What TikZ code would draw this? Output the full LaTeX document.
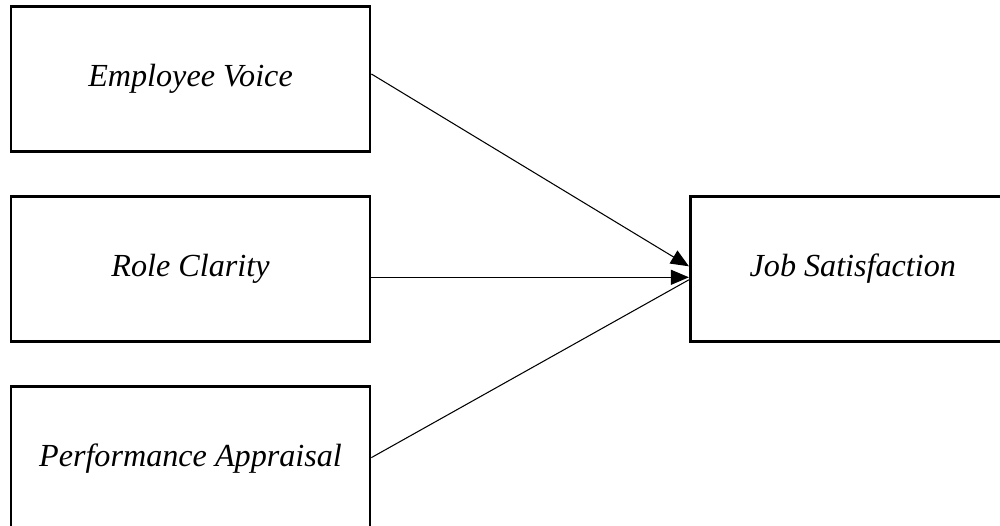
\documentclass[tikz,border=0pt]{standalone}
\usepackage{fontspec}
\setmainfont{Liberation Serif}
\usetikzlibrary{positioning,arrows.meta}

\tikzset{
	factor/.style={draw,line width=1.6pt,minimum width=7.18cm,minimum height=2.9cm,
		font=\fontsize{18.3}{22}\selectfont\itshape},
	link/.style={line width=0.6pt},
}

\begin{document}
\begin{tikzpicture}[node distance=0.84cm,>={Triangle[length=0.36cm,width=0.3cm]}]
		\clip (0,0) rectangle (20,10.52);
		\node[factor] (voice) at (3.81,8.94) {Employee Voice};
		\node[factor] (clarity)[below=of voice] {Role Clarity};
		\node[factor] (appraisal)[below=of clarity] {Performance Appraisal};
		\node[factor,minimum width=6.5cm,right=6.35cm of clarity] (satisfaction) {Job Satisfaction};

		\draw[link,->] ([yshift=0.1cm]voice.east) -- ([yshift=0.05cm]satisfaction.west);
		\draw[link,->] ([yshift=-0.17cm]clarity.east) -- ([yshift=-0.17cm]satisfaction.west);
		\draw[link] ([yshift=0.02cm]appraisal.east) -- ([yshift=-0.22cm]satisfaction.west);
	\end{tikzpicture}
\end{document}
